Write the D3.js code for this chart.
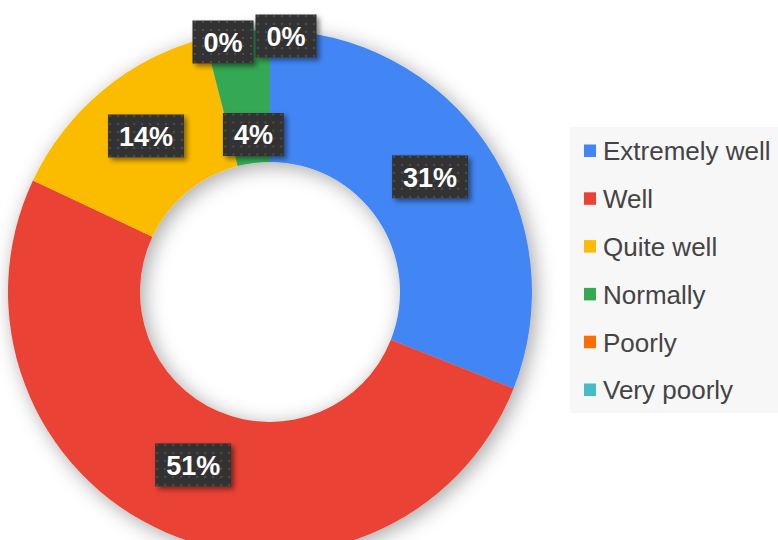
<!DOCTYPE html>
<html>
<head>
<meta charset="utf-8">
<script src="https://cdn.jsdelivr.net/npm/d3@7"></script>
<style>
  html, body { margin: 0; padding: 0; background: #ffffff; }
  svg { display: block; }
</style>
</head>
<body>
<svg id="chart" width="778" height="540"></svg>
<script>
// ---- data ----
const categories = ["Extremely well", "Well", "Quite well", "Normally", "Poorly", "Very poorly"];
const values = [31, 51, 14, 4, 0, 0];
const percentLabels = ["31%", "51%", "14%", "4%", "0%", "0%"];
const colors = ["#4285f4", "#ea4335", "#fbbc04", "#34a853", "#ff6d01", "#46bdc6"];
// label nudges (collision avoidance) in px
const labelNudge = [[-2, -5], [1, -7], [1, -5], [8, 37], [-47, -54], [16, -60]];

const svg = d3.select("#chart");
const W = 778, H = 540;
const cx = 270, cy = 292, outerR = 262, innerR = 130, labelR = 196;

const defs = svg.append("defs");
const sh = defs.append("filter").attr("id", "donutShadow")
  .attr("x", "-20%").attr("y", "-20%").attr("width", "140%").attr("height", "140%");
sh.append("feDropShadow").attr("dx", 4).attr("dy", 4).attr("stdDeviation", 10)
  .attr("flood-color", "#000").attr("flood-opacity", 0.35);

const bsh = defs.append("filter").attr("id", "boxShadow")
  .attr("x", "-30%").attr("y", "-30%").attr("width", "160%").attr("height", "160%");
bsh.append("feDropShadow").attr("dx", 3).attr("dy", 3).attr("stdDeviation", 2.5)
  .attr("flood-color", "#000").attr("flood-opacity", 0.45);

const pat = defs.append("pattern").attr("id", "dots")
  .attr("width", 8).attr("height", 8).attr("patternUnits", "userSpaceOnUse");
pat.append("rect").attr("width", 8).attr("height", 8).attr("fill", "#333333");
pat.append("circle").attr("cx", 4).attr("cy", 4).attr("r", 0.9).attr("fill", "#555a5a");

// ---- donut ----
const pie = d3.pie().sort(null).value(d => d)
  .startAngle(0).endAngle(2 * Math.PI);
const arcs = pie(values);
const arc = d3.arc().innerRadius(innerR).outerRadius(outerR);
const labelArc = d3.arc().innerRadius(labelR).outerRadius(labelR);

const g = svg.append("g").attr("transform", `translate(${cx},${cy})`);
g.append("g").attr("filter", "url(#donutShadow)")
  .selectAll("path").data(arcs).join("path")
  .attr("d", arc)
  .attr("fill", (d, i) => colors[i]);

// ---- labels ----
const lab = g.append("g").selectAll("g").data(arcs).join("g")
  .attr("transform", (d, i) => {
    const c = labelArc.centroid(d);
    return `translate(${c[0] + labelNudge[i][0]},${c[1] + labelNudge[i][1]})`;
  });
lab.each(function(d, i) {
  const sel = d3.select(this);
  const t = sel.append("text")
    .attr("text-anchor", "middle")
    .attr("dy", "0.36em")
    .attr("font-family", "Liberation Sans, Arial, sans-serif")
    .attr("font-weight", "bold")
    .attr("font-size", 27)
    .attr("fill", "#ffffff")
    .text(percentLabels[i]);
  const bb = t.node().getBBox();
  const padX = 11;
  const w = bb.width + padX * 2, h = 43;
  sel.insert("rect", "text")
    .attr("x", -w / 2).attr("y", -h / 2)
    .attr("width", w).attr("height", h)
    .attr("fill", "url(#dots)")
    .attr("filter", "url(#boxShadow)");
});

// ---- legend ----
const legX = 570, legY = 127;
svg.append("rect").attr("x", legX).attr("y", legY)
  .attr("width", W - legX).attr("height", 286).attr("fill", "#f7f7f7");

const rowY = d3.scalePoint().domain(categories).range([151, 390]);
const leg = svg.append("g").selectAll("g").data(categories).join("g")
  .attr("transform", d => `translate(${584},${rowY(d)})`);
leg.append("rect").attr("x", 0).attr("y", -6.5).attr("width", 12).attr("height", 12.5)
  .attr("fill", (d, i) => colors[i]);
leg.append("text").attr("x", 19).attr("dy", "0.36em")
  .attr("font-family", "Liberation Sans, Arial, sans-serif")
  .attr("font-size", 26)
  .attr("fill", "#444444")
  .text(d => d);
</script>
</body>
</html>
